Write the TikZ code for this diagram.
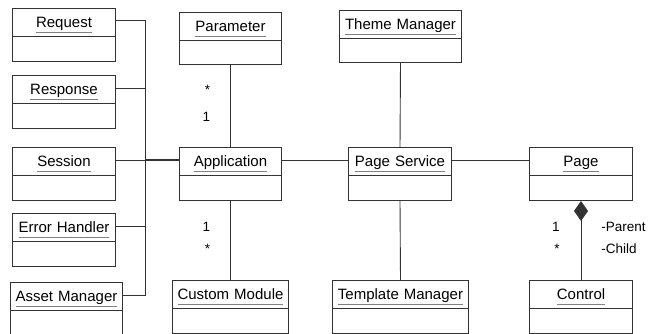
\documentclass[tikz,border=0pt]{standalone}
\usepackage{fontspec}
\setmainfont{Liberation Sans}
\usetikzlibrary{arrows.meta, shapes.multipart}

\newcommand\objhead[1]{\rule[-9pt]{0pt}{27pt}\setbox0\hbox{#1}\rlap{\color{black!50}\rule[-6pt]{\wd0}{1.4pt}}\box0}

\tikzset{
    umlobject/.style={draw=black!80, line width=1pt, rectangle split, rectangle split parts=2,
        anchor=north west, inner xsep=0pt, inner ysep=0pt, align=center,
        font=\fontsize{15}{17}\selectfont},
    mult/.style={inner sep=0pt, font=\fontsize{13.5}{15}\selectfont},
    link/.style={draw=black!80, line width=0.9pt}
}

\begin{document}
\begin{tikzpicture}[x=1pt, y=-1pt]
    \useasboundingbox (0,0) rectangle (650,333);

    \node[umlobject, text width=103pt] (Request) at (12,8) {\objhead{Request} \nodepart{two} \rule{0pt}{24pt}};
    \node[umlobject, text width=103pt] (Response) at (12,75) {\objhead{Response} \nodepart{two} \rule{0pt}{24pt}};
    \node[umlobject, text width=103pt] (Session) at (12,147) {\objhead{Session} \nodepart{two} \rule{0pt}{24pt}};
    \node[umlobject, text width=103pt] (ErrorHandler) at (12,213) {\objhead{Error Handler} \nodepart{two} \rule{0pt}{24pt}};
    \node[umlobject, text width=112pt] (AssetManager) at (10,282) {\objhead{Asset Manager} \nodepart{two} \rule{0pt}{24pt}};

    \node[umlobject, text width=102pt] (Parameter) at (179,12) {\objhead{Parameter} \nodepart{two} \rule{0pt}{23pt}};
    \node[umlobject, text width=102pt] (Application) at (179,147) {\objhead{Application} \nodepart{two} \rule{0pt}{24pt}};
    \node[umlobject, text width=116pt] (CustomModule) at (172,280) {\objhead{Custom Module} \nodepart{two} \rule{0pt}{24pt}};

    \node[umlobject, text width=122pt] (ThemeManager) at (339,10) {\objhead{Theme Manager} \nodepart{two} \rule{0pt}{23pt}};
    \node[umlobject, text width=103pt] (PageService) at (348,147) {\objhead{Page Service} \nodepart{two} \rule{0pt}{24pt}};
    \node[umlobject, text width=136pt] (TemplateManager) at (332,280) {\objhead{Template Manager} \nodepart{two} \rule{0pt}{24pt}};

    \node[umlobject, text width=103pt] (Page) at (529,147) {\objhead{Page} \nodepart{two} \rule{0pt}{24pt}};
    \node[umlobject, text width=103pt] (Control) at (529,280) {\objhead{Control} \nodepart{two} \rule{0pt}{24pt}};

    \coordinate (Bus) at (145,160);

    \draw [link] ([yshift=-12pt]Request.north east) -| (Bus);
    \draw [link] ([yshift=-13pt]Response.north east) -| (Bus);
    \draw [link] ([yshift=-13pt]Session.north east) -- (Bus);
    \draw [link] ([yshift=-13pt]ErrorHandler.north east) -| (Bus);
    \draw [link] ([yshift=-13pt]AssetManager.north east) -| (Bus);
    \draw [link, line width=1.8pt] (Bus) -- ([yshift=-13pt]Application.north west);

    \draw [link] (Parameter.south) -- (Application.north) node[mult, pos=0.3, left=20pt] {*} node[mult, pos=0.63, left=20pt] {1};
    \draw [link] (Application.south) -- (CustomModule.north) node[mult, pos=0.33, left=20pt] {1} node[mult, pos=0.6, left=20pt] {*};

    \draw [link] ([yshift=-13pt]Application.north east) -- ([yshift=-13pt]PageService.north west);
    \draw [link] ([yshift=-13pt]PageService.north east) -- ([yshift=-13pt]Page.north west);

    \draw [link] (ThemeManager.south) -- (PageService.north);
    \draw [link] (PageService.south) -- (TemplateManager.north);

    \draw [link, {Diamond[length=20pt, width=14pt]}-] (Page.south) -- (Control.north)
        node[mult, pos=0.33, left=21pt] {1} node[mult, pos=0.6, left=21pt] {*}
        node[mult, pos=0.33, right=20pt] {-Parent} node[mult, pos=0.6, right=20pt] {-Child};

\end{tikzpicture}
\end{document}
